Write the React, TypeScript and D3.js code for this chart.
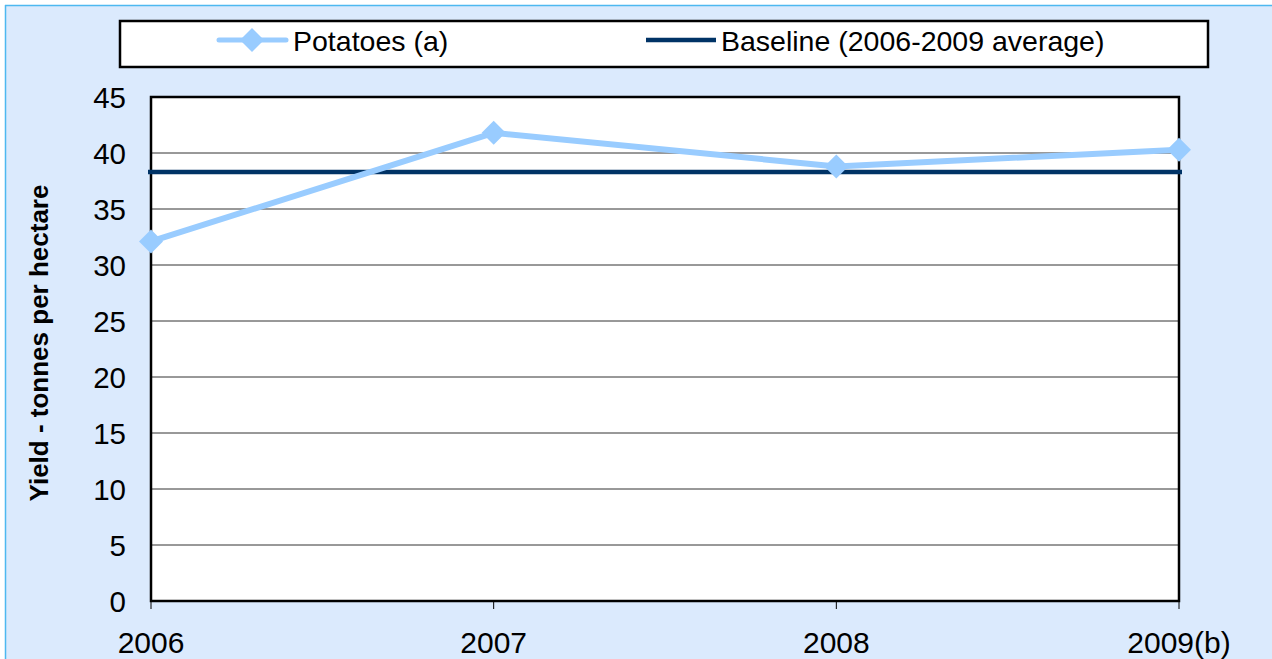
import React from "react";
import * as d3 from "d3";

const categories = ["2006", "2007", "2008", "2009(b)"];
const potatoes = [32.1, 41.8, 38.8, 40.3];
const baseline = 38.3;
const yTicks = [0, 5, 10, 15, 20, 25, 30, 35, 40, 45];
const seriesNames = ["Potatoes (a)", "Baseline (2006-2009 average)"];
const yTitle = "Yield - tonnes per hectare";

const W = 1272;
const H = 659;
const plot = { left: 151, right: 1179, top: 97, bottom: 601 };
const font = "'Liberation Sans', Arial, sans-serif";

export default function App() {
  const x = d3.scalePoint<string>().domain(categories).range([plot.left, plot.right]).padding(0);
  const y = d3.scaleLinear().domain([0, 45]).range([plot.bottom, plot.top]);
  const line = d3
    .line<number>()
    .x((_, i) => x(categories[i]) as number)
    .y((d) => y(d));
  const diamond = (cx: number, cy: number, r: number) =>
    `M${cx},${cy - r}L${cx + r},${cy}L${cx},${cy + r}L${cx - r},${cy}Z`;

  return (
    <svg
      width={W}
      height={H}
      style={{ position: "absolute", left: 0, top: 0, display: "block" }}
      fontFamily={font}
    >
      <rect x={0} y={0} width={W} height={H} fill="#ffffff" />
      <rect x={5} y={5} width={W} height={H} fill="#dbeafd" />
      <line x1={5} y1={5.5} x2={W} y2={5.5} stroke="#4db8f0" strokeWidth={1.5} />
      <line x1={5.5} y1={5} x2={5.5} y2={H} stroke="#4db8f0" strokeWidth={1.5} />

      {/* legend */}
      <rect x={120} y={21} width={1088} height={46} fill="#ffffff" stroke="#000" strokeWidth={2.5} />
      <line x1={219} y1={40} x2={286} y2={40} stroke="#99ccff" strokeWidth={5} strokeLinecap="round" />
      <path d={diamond(252, 40, 12)} fill="#99ccff" />
      <text x={293} y={51} fontSize={28.5} fill="#000">{seriesNames[0]}</text>
      <line x1={646} y1={40} x2={716} y2={40} stroke="#003366" strokeWidth={4.5} />
      <text x={721} y={51} fontSize={28.5} fill="#000">{seriesNames[1]}</text>

      {/* plot area */}
      <rect x={plot.left} y={plot.top} width={plot.right - plot.left} height={plot.bottom - plot.top} fill="#ffffff" />
      {yTicks.slice(1, -1).map((t) => (
        <line key={t} x1={plot.left} x2={plot.right} y1={y(t)} y2={y(t)} stroke="#333" strokeWidth={1} />
      ))}
      <rect
        x={plot.left}
        y={plot.top}
        width={plot.right - plot.left}
        height={plot.bottom - plot.top}
        fill="none"
        stroke="#000"
        strokeWidth={2.5}
      />
      {categories.map((c) => (
        <line key={c} x1={x(c)} x2={x(c)} y1={plot.bottom} y2={plot.bottom + 8} stroke="#000" strokeWidth={1} />
      ))}

      {yTicks.map((t) => (
        <text key={t} x={126} y={y(t) + 10.5} fontSize={29.5} textAnchor="end" fill="#000">
          {t}
        </text>
      ))}
      {categories.map((c) => (
        <text key={c} x={x(c)} y={653} fontSize={30} textAnchor="middle" fill="#000">
          {c}
        </text>
      ))}
      <text
        transform={`translate(48, 343) rotate(-90)`}
        fontSize={26}
        fontWeight="bold"
        textAnchor="middle"
        fill="#000"
      >
        {yTitle}
      </text>

      {/* baseline */}
      <line x1={plot.left - 3} x2={plot.right + 3} y1={y(baseline)} y2={y(baseline)} stroke="#003366" strokeWidth={4.5} />

      {/* potatoes */}
      <path d={line(potatoes) as string} fill="none" stroke="#99ccff" strokeWidth={6} strokeLinejoin="round" />
      {potatoes.map((v, i) => (
        <path key={i} d={diamond(x(categories[i]) as number, y(v), 12)} fill="#99ccff" />
      ))}
    </svg>
  );
}
